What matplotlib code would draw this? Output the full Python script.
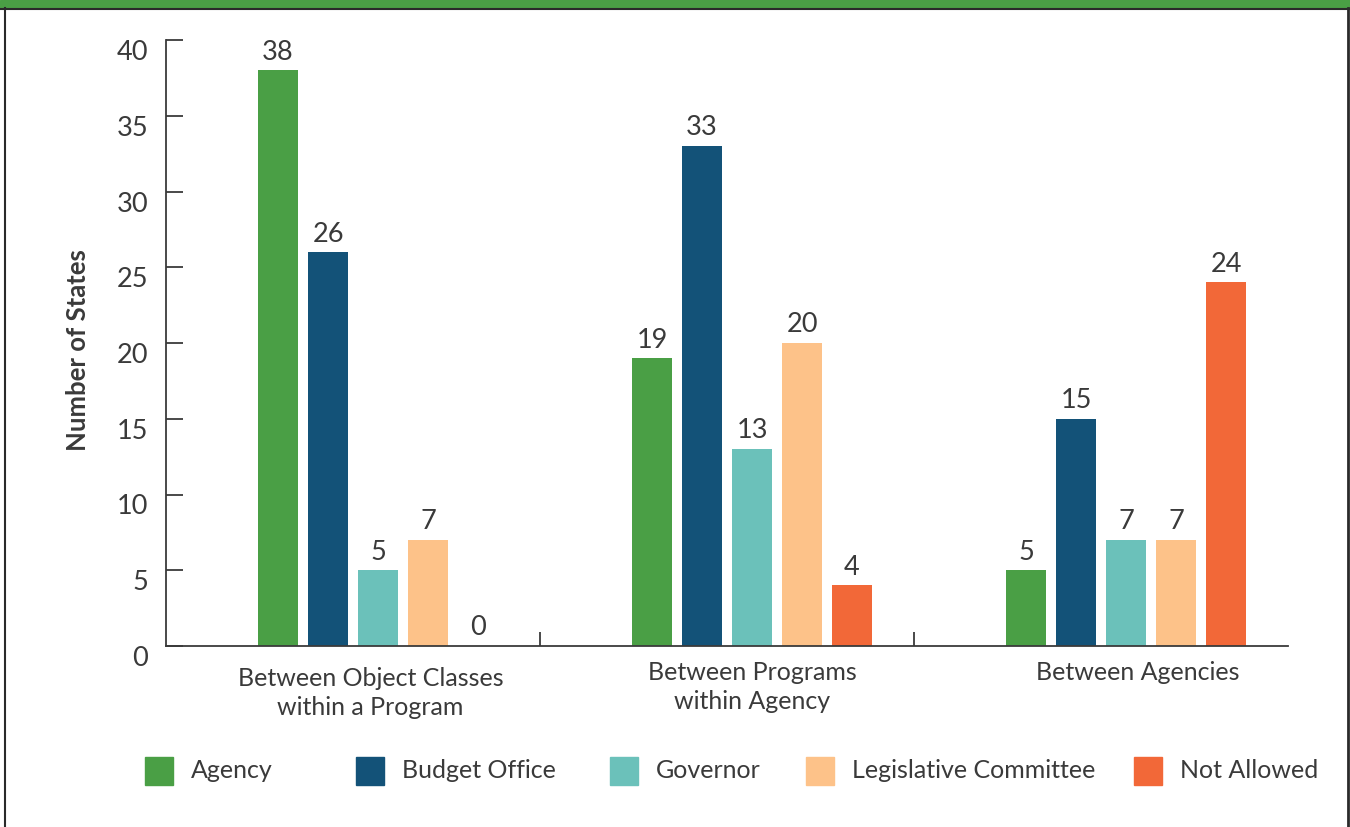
import numpy as np
import matplotlib.pyplot as plt
from matplotlib.patches import Rectangle
from matplotlib.lines import Line2D
import matplotlib.transforms as mtransforms

# ---------------------------------------------------------------- data
categories = ['Between Object Classes\nwithin a Program',
              'Between Programs\nwithin Agency',
              'Between Agencies']
series = ['Agency', 'Budget Office', 'Governor', 'Legislative Committee', 'Not Allowed']
agency = [38, 19, 5]
budget_office = [26, 33, 15]
governor = [5, 13, 7]
legislative = [7, 20, 7]
not_allowed = [0, 4, 24]
colors = ['#4a9f45', '#135278', '#6bc1ba', '#fdc289', '#f26838']

values = [agency, budget_office, governor, legislative, not_allowed]

plt.rcParams['font.family'] = ['Lato', 'DejaVu Sans']
txt = '#3a3a3a'

fig = plt.figure(figsize=(13.5, 8.27), dpi=100)
ax = fig.add_axes([166 / 1350, 1 - 646 / 827, (1288 - 166) / 1350, (646 - 40) / 827])

x = np.arange(len(categories))
pitch = 0.1337
width = 0.107
for i, (name, vals) in enumerate(zip(series, values)):
    xs = x + (i - 2) * pitch
    bars = ax.bar(xs, vals, width, color=colors[i], label=name)
    for b, v in zip(bars, vals):
        ax.annotate(str(v), (b.get_x() + b.get_width() / 2, v),
                    xytext=(0, 4), textcoords='offset points',
                    ha='center', va='bottom', fontsize=19.5, color=txt)

ax.set_xlim(-0.567, 2.433)
ax.set_ylim(0, 40)
ax.set_yticks(range(0, 41, 5))
ax.set_xticks([0.433, 1.433])
ax.set_xticklabels([])
ax.tick_params(axis='y', direction='in', length=12, width=1.3, color=txt,
               labelsize=19.5, labelcolor=txt, pad=13)
ax.tick_params(axis='x', direction='in', length=10, width=1.3, color=txt)
shift = mtransforms.ScaledTranslation(0, -10 / 100, fig.dpi_scale_trans)
for lab in ax.get_yticklabels():
    lab.set_transform(lab.get_transform() + shift)

for s in ['top', 'right']:
    ax.spines[s].set_visible(False)
for s in ['left', 'bottom']:
    ax.spines[s].set_color(txt)
    ax.spines[s].set_linewidth(1.3)

# category names under each group
cat_x = [-0.02, 1.0, 2.03]
cat_y = [-0.035, -0.025, -0.025]
for cx, cy, cat in zip(cat_x, cat_y, categories):
    ax.text(cx, cy, cat, transform=ax.get_xaxis_transform(),
            ha='center', va='top', fontsize=18, color=txt, linespacing=1.3)

fig.text(78 / 1350, 1 - 350 / 827, 'Number of States', rotation=90,
         ha='center', va='center', fontsize=18.5, fontweight='bold', color=txt)

# legend row
leg_sq = [145, 356, 610, 806, 1134]
for name, c, px in zip(series, colors, leg_sq):
    fig.patches.append(Rectangle((px / 1350, 1 - 785 / 827), 28 / 1350, 28 / 827,
                                 transform=fig.transFigure, color=c))
    fig.text((px + 46) / 1350, 1 - 771 / 827, name, ha='left', va='center',
             fontsize=18, color=txt)

# frame and header band
fig.patches.append(Rectangle((0, 1 - 8 / 827), 1, 8 / 827, transform=fig.transFigure,
                             color='#4a9f45'))
fig.lines.append(Line2D([0, 1], [1 - 8.5 / 827] * 2, transform=fig.transFigure,
                        color='#2a2a2a', lw=1.5))
fig.lines.append(Line2D([5 / 1350] * 2, [0, 1 - 8 / 827], transform=fig.transFigure,
                        color='#2a2a2a', lw=1.5))
fig.lines.append(Line2D([1347.5 / 1350] * 2, [0, 1 - 8 / 827], transform=fig.transFigure,
                        color='#2a2a2a', lw=2))

fig.savefig('out.png', dpi=100)
